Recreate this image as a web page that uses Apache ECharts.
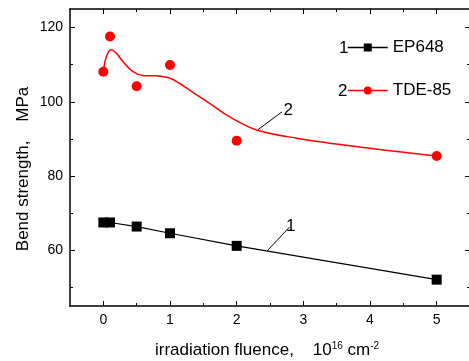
<!DOCTYPE html>
<html>
<head>
<meta charset="utf-8">
<script src="https://cdn.jsdelivr.net/npm/echarts@6/dist/echarts.min.js"></script>
<style>
  html, body { margin: 0; padding: 0; background: #fff; }
  #chart { width: 469px; height: 361px; }
</style>
</head>
<body>
<div id="chart"></div>
<script>
const FONT = "Liberation Sans, Arial, sans-serif";

// measured points
const epX = [0, 0.1, 0.5, 1, 2, 5];
const epY = [67.5, 67.5, 66.4, 64.6, 61.2, 52.1];
const tdeX = [0, 0.1, 0.5, 1, 2, 5];
const tdeY = [108.1, 117.6, 104.2, 109.9, 89.5, 85.4];

// red fit curve
const fitX = [0, 0.04, 0.115, 0.2, 0.29, 0.44, 0.59, 0.79, 0.99, 1.14, 1.29, 1.44, 1.6, 1.89, 2.3, 2.9, 3.9, 5];
const fitY = [108.1, 111.8, 114.0, 113.0, 110.9, 108.2, 107.1, 107.0, 106.4, 105.0, 103.2, 101.4, 99.5, 96.0, 92.4, 90.2, 87.7, 85.4];

// leader lines for the curve numbers
const leader1 = [[2.46, 59.9], [2.79, 66.2]];
const leader2 = [[2.32, 92.5], [2.68, 97.3]];

const xMajor = [0, 1, 2, 3, 4, 5];
const xMinor = [0.5, 1.5, 2.5, 3.5, 4.5];
const yMajor = [60, 80, 100, 120];
const yMinor = [50, 70, 90, 110];

const zip = (xs, ys) => xs.map((x, i) => [x, ys[i]]);

const chart = echarts.init(document.getElementById("chart"));

function axis(pos, ticks, len, line, labels) {
  const a = {
    type: "value",
    position: pos,
    axisLine: { show: line, onZero: false, lineStyle: { color: "#000", width: 1.5 } },
    axisTick: { show: true, inside: true, length: len, customValues: ticks,
      lineStyle: { color: "#000", width: 1 } },
    axisLabel: { show: !!labels },
    splitLine: { show: false },
  };
  if (labels) {
    a.axisLabel = { show: true, customValues: ticks, color: "#000",
      fontSize: 14, fontFamily: FONT, margin: 7 };
  }
  return a;
}

const xAxes = [
  axis("bottom", xMajor, 5, true, true),
  axis("bottom", xMinor, 3, false, false),
  axis("top", xMajor, 5, true, false),
  axis("top", xMinor, 3, false, false),
].map((a) => Object.assign(a, { min: -0.5, max: 5.5 }));

const yAxes = [
  axis("left", yMajor, 5, true, true),
  axis("left", yMinor, 3, false, false),
  axis("right", yMajor, 5, true, false),
  axis("right", yMinor, 3, false, false),
].map((a) => Object.assign(a, { min: 45, max: 125 }));

const leaderLine = (pts, text) => ({
  symbol: "none",
  silent: true,
  lineStyle: { color: "#000", width: 1, type: "solid" },
  label: { show: true, position: "end", formatter: text, color: "#000",
    fontSize: 17, fontFamily: FONT, distance: 2 },
  emphasis: { disabled: true },
  data: [[{ coord: pts[0] }, { coord: pts[1] }]],
});

chart.setOption({
  animation: false,
  grid: { left: 70, top: 9, width: 400, height: 297, outerBoundsMode: "none" },
  xAxis: xAxes,
  yAxis: yAxes,
  legend: {
    orient: "vertical",
    left: 347,
    top: 39,
    padding: 0,
    itemWidth: 40,
    itemHeight: 10,
    itemGap: 26,
    selectedMode: false,
    textStyle: { color: "#000", fontSize: 17, fontFamily: FONT },
    data: [
      { name: "EP648", lineStyle: { width: 1.5 } },
      { name: "TDE-85", lineStyle: { opacity: 1, width: 1.5, color: "#ff0000" } },
    ],
  },
  graphic: [
    { type: "text", x: 339, y: 48, style: { text: "1", fill: "#000", fontSize: 17, fontFamily: FONT, verticalAlign: "middle" } },
    { type: "text", x: 338, y: 91, style: { text: "2", fill: "#000", fontSize: 17, fontFamily: FONT, verticalAlign: "middle" } },
    {
      type: "text", x: 23, y: 169, rotation: Math.PI / 2,
      style: { text: "Bend strength,    MPa", fill: "#000", fontSize: 17, fontFamily: FONT,
        align: "center", verticalAlign: "middle" },
    },
    {
      type: "text", x: 155, y: 350,
      style: {
        text: "{t|irradiation fluence,    10}{s|16}{t| cm}{s|-2}",
        verticalAlign: "middle",
        rich: {
          t: { fill: "#000", fontSize: 17, fontFamily: FONT },
          s: { fill: "#000", fontSize: 10, fontFamily: FONT, verticalAlign: "top", padding: [0, 0, 8, 0] },
        },
      },
    },
  ],
  series: [
    {
      name: "EP648",
      type: "line",
      data: zip(epX, epY),
      symbol: "rect",
      symbolSize: 10,
      itemStyle: { color: "#000" },
      lineStyle: { color: "#000", width: 1.2 },
      markLine: leaderLine(leader1, "1"),
    },
    {
      name: "TDE-85 fit",
      type: "line",
      data: zip(fitX, fitY),
      smooth: 0.35,
      showSymbol: false,
      lineStyle: { color: "#ff0000", width: 1.5 },
      markLine: leaderLine(leader2, "2"),
    },
    {
      name: "TDE-85",
      type: "line",
      data: zip(tdeX, tdeY),
      symbol: "circle",
      symbolSize: 10,
      itemStyle: { color: "#ff0000" },
      lineStyle: { opacity: 0 },
    },
  ],
});
</script>
</body>
</html>
